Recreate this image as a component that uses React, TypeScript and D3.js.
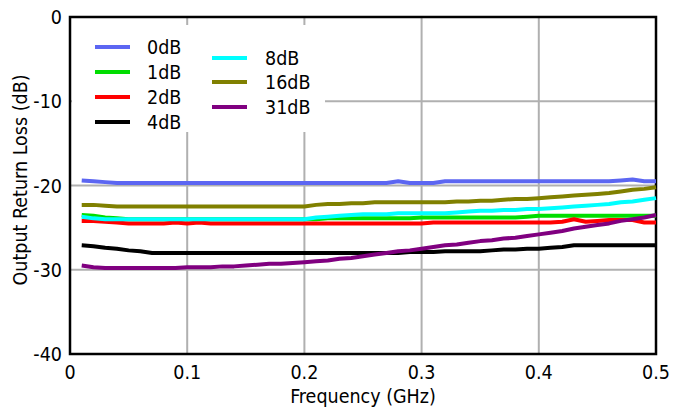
import React from "react";
import * as d3 from "d3";

const freq = [
  0.01, 0.02, 0.03, 0.04, 0.05, 0.06, 0.07, 0.08, 0.09, 0.1,
  0.11, 0.12, 0.13, 0.14, 0.15, 0.16, 0.17, 0.18, 0.19, 0.2,
  0.21, 0.22, 0.23, 0.24, 0.25, 0.26, 0.27, 0.28, 0.29, 0.3,
  0.31, 0.32, 0.33, 0.34, 0.35, 0.36, 0.37, 0.38, 0.39, 0.4,
  0.41, 0.42, 0.43, 0.44, 0.45, 0.46, 0.47, 0.48, 0.49, 0.5,
];

const s0dB = [
  -19.4, -19.5, -19.6, -19.7, -19.7, -19.7, -19.7, -19.7, -19.7, -19.7,
  -19.7, -19.7, -19.7, -19.7, -19.7, -19.7, -19.7, -19.7, -19.7, -19.7,
  -19.7, -19.7, -19.7, -19.7, -19.7, -19.7, -19.7, -19.5, -19.7, -19.7,
  -19.7, -19.5, -19.5, -19.5, -19.5, -19.5, -19.5, -19.5, -19.5, -19.5,
  -19.5, -19.5, -19.5, -19.5, -19.5, -19.5, -19.4, -19.3, -19.5, -19.5,
];
const s1dB = [
  -23.5, -23.6, -23.8, -23.9, -24.0, -24.0, -24.0, -24.0, -24.0, -24.0,
  -24.0, -24.0, -24.0, -24.0, -24.0, -24.0, -24.0, -24.0, -24.0, -24.0,
  -24.0, -23.9, -23.9, -23.9, -23.9, -23.9, -23.9, -23.9, -23.9, -23.8,
  -23.8, -23.8, -23.8, -23.8, -23.8, -23.8, -23.8, -23.8, -23.7, -23.6,
  -23.6, -23.6, -23.6, -23.6, -23.6, -23.6, -23.6, -23.6, -23.6, -23.6,
];
const s2dB = [
  -24.2, -24.2, -24.3, -24.4, -24.5, -24.5, -24.5, -24.5, -24.4, -24.5,
  -24.4, -24.5, -24.5, -24.5, -24.5, -24.5, -24.5, -24.5, -24.5, -24.5,
  -24.5, -24.5, -24.5, -24.5, -24.5, -24.5, -24.5, -24.5, -24.5, -24.5,
  -24.4, -24.4, -24.4, -24.4, -24.4, -24.4, -24.4, -24.4, -24.4, -24.4,
  -24.4, -24.3, -24.0, -24.3, -24.2, -24.1, -24.1, -24.1, -24.4, -24.4,
];
const s4dB = [
  -27.1, -27.2, -27.4, -27.5, -27.7, -27.8, -28.0, -28.0, -28.0, -28.0,
  -28.0, -28.0, -28.0, -28.0, -28.0, -28.0, -28.0, -28.0, -28.0, -28.0,
  -28.0, -28.0, -28.0, -28.0, -28.0, -28.0, -28.0, -28.0, -27.9, -27.9,
  -27.9, -27.8, -27.8, -27.8, -27.8, -27.7, -27.6, -27.6, -27.5, -27.5,
  -27.4, -27.3, -27.1, -27.1, -27.1, -27.1, -27.1, -27.1, -27.1, -27.1,
];
const s8dB = [
  -23.7, -23.9, -24.0, -24.0, -24.0, -24.0, -24.0, -24.0, -24.0, -24.0,
  -24.0, -24.0, -24.0, -24.0, -24.0, -24.0, -24.0, -24.0, -24.0, -24.0,
  -23.8, -23.7, -23.6, -23.5, -23.4, -23.4, -23.4, -23.3, -23.3, -23.3,
  -23.3, -23.3, -23.2, -23.1, -23.0, -23.0, -22.9, -22.9, -22.8, -22.8,
  -22.7, -22.6, -22.5, -22.4, -22.3, -22.2, -22.0, -21.9, -21.7, -21.5,
];
const s16dB = [
  -22.3, -22.3, -22.4, -22.5, -22.5, -22.5, -22.5, -22.5, -22.5, -22.5,
  -22.5, -22.5, -22.5, -22.5, -22.5, -22.5, -22.5, -22.5, -22.5, -22.5,
  -22.3, -22.2, -22.2, -22.1, -22.1, -22.0, -22.0, -22.0, -22.0, -22.0,
  -22.0, -22.0, -21.9, -21.9, -21.8, -21.8, -21.7, -21.6, -21.6, -21.5,
  -21.4, -21.3, -21.2, -21.1, -21.0, -20.9, -20.7, -20.5, -20.4, -20.2,
];
const s31dB = [
  -29.5, -29.7, -29.8, -29.8, -29.8, -29.8, -29.8, -29.8, -29.8, -29.7,
  -29.7, -29.7, -29.6, -29.6, -29.5, -29.4, -29.3, -29.3, -29.2, -29.1,
  -29.0, -28.9, -28.7, -28.6, -28.4, -28.2, -28.0, -27.8, -27.7, -27.5,
  -27.3, -27.1, -27.0, -26.8, -26.6, -26.5, -26.3, -26.2, -26.0, -25.8,
  -25.6, -25.4, -25.1, -24.9, -24.7, -24.5, -24.2, -24.0, -23.8, -23.5,
];

const seriesNames = ["0dB", "1dB", "2dB", "4dB", "8dB", "16dB", "31dB"];
const seriesValues = [s0dB, s1dB, s2dB, s4dB, s8dB, s16dB, s31dB];
const seriesColors = ["#5c66f2", "#00dd00", "#ff0000", "#000000", "#00ffff", "#808000", "#800080"];

const xTicks = [0, 0.1, 0.2, 0.3, 0.4, 0.5];
const yTicks = [0, -10, -20, -30, -40];

const FONT = "'DejaVu Sans Condensed', 'DejaVu Sans', sans-serif";
const FS = 19.5;

export default function App() {
  const W = 685;
  const H = 410;
  const x = d3.scaleLinear().domain([0, 0.5]).range([70, 656]);
  const y = d3.scaleLinear().domain([-40, 0]).range([354, 17]);
  const line = d3
    .line<number>()
    .x((_, i) => x(freq[i]))
    .y((v) => y(v));

  const legendCol1 = [0, 1, 2, 3];
  const legendCol2 = [4, 5, 6];
  const col1Y = [47, 72, 97, 122];
  const col2Y = [58, 82, 107];

  return (
    <svg
      width={W}
      height={H}
      style={{ position: "absolute", left: 0, top: 0, background: "#fff" }}
      fontFamily={FONT}
    >
      {/* grid */}
      {xTicks.slice(1, -1).map((t) => (
        <line key={"gx" + t} x1={x(t)} x2={x(t)} y1={y(0)} y2={y(-40)} stroke="#b0b0b0" strokeWidth={2} />
      ))}
      {yTicks.slice(1, -1).map((t) => (
        <line key={"gy" + t} x1={x(0)} x2={x(0.5)} y1={y(t)} y2={y(t)} stroke="#b0b0b0" strokeWidth={2} />
      ))}
      {/* legend background */}
      <rect x={72} y={25} width={253} height={107} fill="#fff" />
      {/* frame */}
      <rect x={x(0)} y={y(0)} width={x(0.5) - x(0)} height={y(-40) - y(0)} fill="none" stroke="#000" strokeWidth={2.5} />
      {/* series */}
      {seriesValues.map((vals, i) => (
        <path key={seriesNames[i]} d={line(vals) || ""} fill="none" stroke={seriesColors[i]} strokeWidth={4} strokeLinejoin="round" />
      ))}
      {/* legend */}
      {legendCol1.map((si, k) => (
        <g key={"l" + si}>
          <line x1={95} x2={130} y1={col1Y[k]} y2={col1Y[k]} stroke={seriesColors[si]} strokeWidth={4} />
          <text x={147} y={col1Y[k]} dy="0.36em" fontSize={FS} fill="#000">{seriesNames[si]}</text>
        </g>
      ))}
      {legendCol2.map((si, k) => (
        <g key={"l" + si}>
          <line x1={212} x2={247} y1={col2Y[k]} y2={col2Y[k]} stroke={seriesColors[si]} strokeWidth={4} />
          <text x={265} y={col2Y[k]} dy="0.36em" fontSize={FS} fill="#000">{seriesNames[si]}</text>
        </g>
      ))}
      {/* y tick labels */}
      {yTicks.map((t) => (
        <text key={"yt" + t} x={62} y={y(t)} dy="0.36em" textAnchor="end" fontSize={FS} fill="#000">
          {t}
        </text>
      ))}
      {/* x tick labels */}
      {xTicks.map((t) => (
        <text key={"xt" + t} x={x(t)} y={379} textAnchor="middle" fontSize={FS} fill="#000">
          {t}
        </text>
      ))}
      <text x={(x(0) + x(0.5)) / 2} y={403} textAnchor="middle" fontSize={FS} fill="#000">
        Frequency (GHz)
      </text>
      <text transform={`translate(27,180) rotate(-90)`} textAnchor="middle" fontSize={FS} fill="#000">
        Output Return Loss (dB)
      </text>
    </svg>
  );
}
